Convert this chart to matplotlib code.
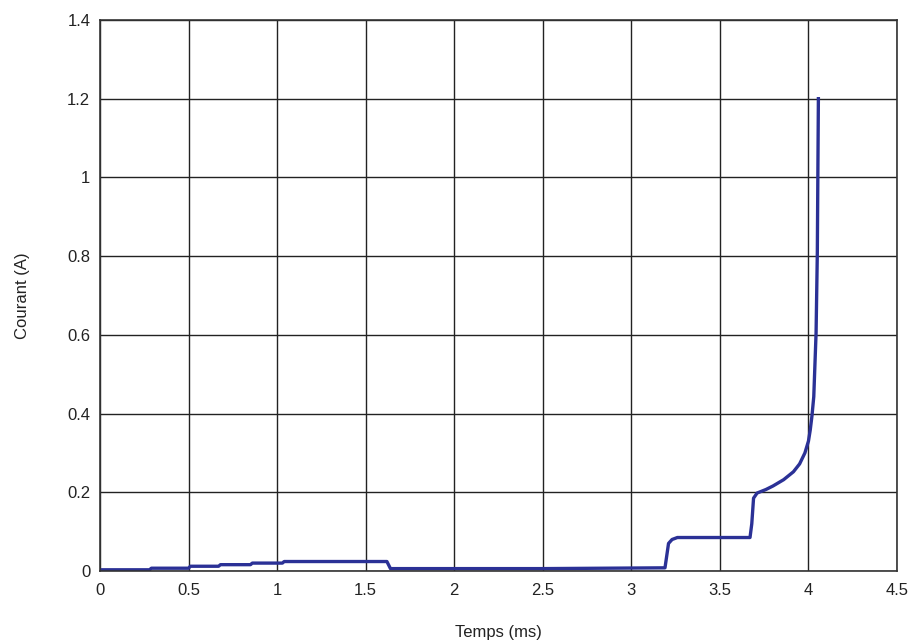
import matplotlib.pyplot as plt

# Temps (ms) et courant (A)
temps = [0.0, 0.28, 0.29, 0.50, 0.51, 0.67, 0.68, 0.85, 0.86, 1.03, 1.04,
         1.62, 1.64, 2.5, 3.19, 3.21, 3.23, 3.26, 3.67, 3.68, 3.69, 3.71,
         3.76, 3.80, 3.86, 3.915, 3.95, 3.98, 4.0, 4.01, 4.02, 4.03, 4.043,
         4.05, 4.056]
courant = [0.003, 0.003, 0.007, 0.007, 0.012, 0.012, 0.016, 0.016, 0.020,
           0.020, 0.024, 0.024, 0.006, 0.006, 0.008, 0.070, 0.080, 0.085,
           0.085, 0.120, 0.185, 0.198, 0.207, 0.216, 0.232, 0.252, 0.272,
           0.300, 0.330, 0.358, 0.395, 0.443, 0.605, 0.808, 1.2]

xticks = [0, 0.5, 1, 1.5, 2, 2.5, 3, 3.5, 4, 4.5]
yticks = [0, 0.2, 0.4, 0.6, 0.8, 1, 1.2, 1.4]

plt.rcParams['font.family'] = ['Liberation Sans', 'DejaVu Sans']

fig = plt.figure(figsize=(9.13, 6.44), dpi=100)
ax = fig.add_axes([0.1095, 0.1134, 0.873, 0.8556])

ax.plot(temps, courant, color='#2b3196', linewidth=2.4, solid_joinstyle='round')

ax.set_xlim(0, 4.5)
ax.set_ylim(0, 1.4)
ax.set_xticks(xticks)
ax.set_xticklabels([f'{v:g}' for v in xticks])
ax.set_yticks(yticks)
ax.set_yticklabels([f'{v:g}' for v in yticks])
ax.grid(True, color='#222222', linewidth=1.0)
ax.tick_params(length=0, labelsize=12, colors='#222222')
ax.tick_params(axis='x', pad=9)
ax.tick_params(axis='y', pad=7)
for s in ax.spines.values():
    s.set_color('#333333')
    s.set_linewidth(1.2)

ax.set_xlabel('Temps (ms)', fontsize=12, labelpad=19, color='#222222')
ax.set_ylabel('Courant (A)', fontsize=12, labelpad=27, color='#222222')

plt.savefig('out.png', dpi=100)
